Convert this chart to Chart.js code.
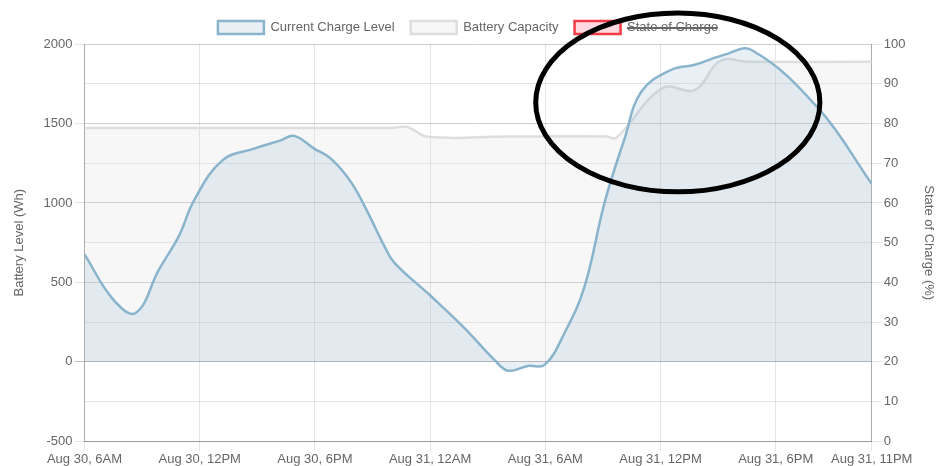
<!DOCTYPE html>
<html>
<head>
<meta charset="utf-8">
<script src="https://cdn.jsdelivr.net/npm/chart.js@4/dist/chart.umd.min.js"></script>
<style>
  html, body { margin: 0; padding: 0; background: #fff; }
  #wrap { width: 936px; height: 466px; }
</style>
</head>
<body>
<div id="wrap"><canvas id="chart"></canvas></div>
<script>
var chargeHours = [0, 1.5, 2.66, 3.88, 4.92, 5.7, 7.18, 8.83, 10.22, 10.92, 11.96, 12.83, 13.88, 14.75, 15.61, 16.13, 18.05, 19.79, 21.35, 22.05, 23.09, 23.96, 25.0, 26.05, 27.09, 28.13, 29.0, 30.57, 31.78, 33.35, 34.74, 38.22, 41];
var chargeWh = [677, 392, 308, 582, 793, 1015, 1268, 1342, 1394, 1422, 1342, 1279, 1131, 941, 730, 625, 413, 213, 13, -55, -25, -19, 182, 477, 1004, 1405, 1700, 1838, 1869, 1933, 1962, 1595, 1120];

// battery capacity (Wh)
var capacityHours = [0, 8, 16, 16.8, 17.9, 22, 27.2, 27.7, 30.1, 31.8, 33.1, 34.5, 41];
var capacityWh = [1472, 1472, 1472, 1478, 1416, 1418, 1418, 1410, 1722, 1711, 1893, 1888, 1888];

// state of charge is hidden in the chart, so no values to read
var socPercent = [];

// x axis ticks
var tickHours = [0, 6, 12, 18, 24, 30, 36, 41];
var tickLabels = ['Aug 30, 6AM', 'Aug 30, 12PM', 'Aug 30, 6PM', 'Aug 31, 12AM', 'Aug 31, 6AM', 'Aug 31, 12PM', 'Aug 31, 6PM', 'Aug 31, 11PM'];

// the hand drawn ring round the afternoon peak (hours / % units)
var ring = { hour: 30.9, soc: 85.3, halfHours: 7.4, halfSoc: 22.5 };

var toPoints = function(xs, ys) {
  return xs.map(function(h, i) { return { x: h, y: ys[i] }; });
};

var font = { family: '"Helvetica Neue", Helvetica, Arial, "Liberation Sans", sans-serif', size: 13 };
var grey = '#666';

// draw the black ring on top of everything
var ringPlugin = {
  id: 'ring',
  afterDraw: function(chart) {
    var x = chart.scales.x, y = chart.scales.soc;
    var cx = x.getPixelForValue(ring.hour);
    var cy = y.getPixelForValue(ring.soc);
    var rx = x.getPixelForValue(ring.hour + ring.halfHours) - cx;
    var ry = y.getPixelForValue(ring.soc - ring.halfSoc) - cy;
    var ctx = chart.ctx;
    ctx.save();
    ctx.beginPath();
    ctx.ellipse(cx, cy, rx, ry, 0, 0, Math.PI * 2);
    ctx.lineWidth = 5;
    ctx.strokeStyle = '#000';
    ctx.stroke();
    ctx.restore();
  }
};

var mainApp = function() {
  var ctx = document.getElementById('chart').getContext('2d');
  new Chart(ctx, {
    type: 'line',
    data: {
      datasets: [
        {
          label: 'Current Charge Level',
          data: toPoints(chargeHours, chargeWh),
          yAxisID: 'wh',
          borderColor: 'rgb(138,180,204)',
          backgroundColor: 'rgba(138,180,204,0.2)',
          borderWidth: 2.5,
          fill: 'origin',
          tension: 0.4,
          pointRadius: 0
        },
        {
          label: 'Battery Capacity',
          data: toPoints(capacityHours, capacityWh),
          yAxisID: 'wh',
          borderColor: 'rgb(222,222,222)',
          backgroundColor: 'rgba(220,220,220,0.22)',
          borderWidth: 2.5,
          fill: 'origin',
          tension: 0.4,
          pointRadius: 0
        },
        {
          label: 'State of Charge',
          data: socPercent,
          yAxisID: 'soc',
          hidden: true,
          borderColor: 'rgb(240,60,70)',
          backgroundColor: 'rgba(255,99,132,0.25)',
          borderWidth: 2.5,
          pointRadius: 0
        }
      ]
    },
    options: {
      responsive: true,
      maintainAspectRatio: false,
      animation: false,
      layout: { padding: { top: 5, right: 0, left: 0, bottom: -1 } },
      plugins: {
        legend: {
          labels: { boxWidth: 46, boxHeight: 13, color: grey, font: font, padding: 16 }
        },
        tooltip: { enabled: false }
      },
      scales: {
        x: {
          type: 'linear',
          min: 0,
          max: 41,
          afterBuildTicks: function(scale) {
            scale.ticks = tickHours.map(function(h) { return { value: h }; });
          },
          ticks: {
            autoSkip: false,
            maxRotation: 0,
            color: grey,
            font: font,
            padding: 0,
            callback: function(value, index) { return tickLabels[index]; }
          },
          grid: { color: 'rgba(0,0,0,0.1)', tickLength: 10 },
          border: { color: 'rgba(0,0,0,0.25)' }
        },
        wh: {
          position: 'left',
          min: -500,
          max: 2000,
          ticks: {
            stepSize: 500, color: grey, font: font, padding: 2,
            callback: function(value) { return String(value); }
          },
          title: { display: true, text: 'Battery Level (Wh)', color: grey, font: font, padding: { top: 12, bottom: 14 } },
          grid: {
            tickLength: 10,
            color: function(c) { return c.tick && c.tick.value === 0 ? 'rgba(0,0,0,0.25)' : 'rgba(0,0,0,0.1)'; }
          },
          border: { color: 'rgba(0,0,0,0.25)' }
        },
        soc: {
          position: 'right',
          min: 0,
          max: 100,
          ticks: { stepSize: 10, color: grey, font: font, padding: 2 },
          title: { display: true, text: 'State of Charge (%)', color: grey, font: font, padding: { top: 0, bottom: 13 } },
          grid: { tickLength: 10, color: 'rgba(0,0,0,0.1)' },
          border: { color: 'rgba(0,0,0,0.25)' }
        }
      }
    },
    plugins: [ringPlugin]
  });
};

window.onload = mainApp;
</script>
</body>
</html>
